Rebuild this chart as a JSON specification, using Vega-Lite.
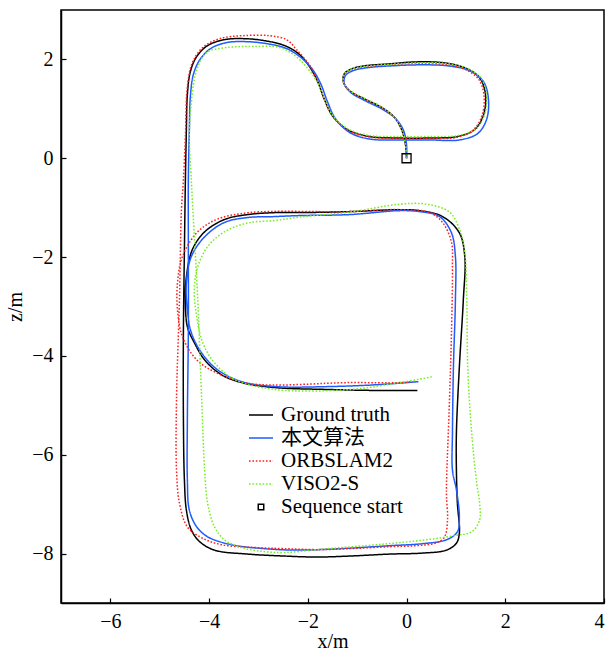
{
"$schema":"https://vega.github.io/schema/vega-lite/v6.json",
"width":543,"height":593,"autosize":{"type":"none"},
"padding":{"left":61,"top":10,"right":2,"bottom":49},
"background":"white",
"config":{
"view":{"stroke":"black","strokeWidth":1.5},
"axis":{"grid":false,"domainColor":"black","domainWidth":1.5,"tickColor":"black","tickWidth":1.2,"tickSize":-5,"labelFont":"Liberation Serif","labelFontSize":20,"labelColor":"black","titleFont":"Liberation Serif","titleFontSize":20,"titleFontWeight":"normal","titleColor":"black"}
},
"layer":[
{
"data":{"values":[
{"s":"Ground truth","i":1,"x":0,"y":0},{"s":"Ground truth","i":2,"x":-0.02,"y":0.27},{"s":"Ground truth","i":3,"x":-0.10,"y":0.58},{"s":"Ground truth","i":4,"x":-0.24,"y":0.82},{"s":"Ground truth","i":5,"x":-0.49,"y":1.02},{"s":"Ground truth","i":6,"x":-0.85,"y":1.20},{"s":"Ground truth","i":7,"x":-1.16,"y":1.37},{"s":"Ground truth","i":8,"x":-1.28,"y":1.55},{"s":"Ground truth","i":9,"x":-1.26,"y":1.71},{"s":"Ground truth","i":10,"x":-1.11,"y":1.81},{"s":"Ground truth","i":11,"x":-0.85,"y":1.87},{"s":"Ground truth","i":12,"x":-0.34,"y":1.91},{"s":"Ground truth","i":13,"x":0.20,"y":1.95},{"s":"Ground truth","i":14,"x":0.77,"y":1.93},{"s":"Ground truth","i":15,"x":1.18,"y":1.83},{"s":"Ground truth","i":16,"x":1.48,"y":1.63},{"s":"Ground truth","i":17,"x":1.60,"y":1.29},{"s":"Ground truth","i":18,"x":1.56,"y":0.88},{"s":"Ground truth","i":19,"x":1.38,"y":0.58},{"s":"Ground truth","i":20,"x":1.03,"y":0.44},{"s":"Ground truth","i":21,"x":0.47,"y":0.41},{"s":"Ground truth","i":22,"x":-0.14,"y":0.41},{"s":"Ground truth","i":23,"x":-0.75,"y":0.44},{"s":"Ground truth","i":24,"x":-1.20,"y":0.58},{"s":"Ground truth","i":25,"x":-1.50,"y":0.86},{"s":"Ground truth","i":26,"x":-1.66,"y":1.18},{"s":"Ground truth","i":27,"x":-1.80,"y":1.55},{"s":"Ground truth","i":28,"x":-1.95,"y":1.83},{"s":"Ground truth","i":29,"x":-2.17,"y":2.10},{"s":"Ground truth","i":30,"x":-2.47,"y":2.28},{"s":"Ground truth","i":31,"x":-2.88,"y":2.38},{"s":"Ground truth","i":32,"x":-3.28,"y":2.42},{"s":"Ground truth","i":33,"x":-3.69,"y":2.40},{"s":"Ground truth","i":34,"x":-4.03,"y":2.28},{"s":"Ground truth","i":35,"x":-4.25,"y":2.06},{"s":"Ground truth","i":36,"x":-4.38,"y":1.75},{"s":"Ground truth","i":37,"x":-4.44,"y":1.29},{"s":"Ground truth","i":38,"x":-4.46,"y":0.58},{"s":"Ground truth","i":39,"x":-4.48,"y":-0.44},{"s":"Ground truth","i":40,"x":-4.50,"y":-1.85},{"s":"Ground truth","i":41,"x":-4.52,"y":-3.47},{"s":"Ground truth","i":42,"x":-4.52,"y":-5.29},{"s":"Ground truth","i":43,"x":-4.50,"y":-6.51},{"s":"Ground truth","i":44,"x":-4.46,"y":-7.12},{"s":"Ground truth","i":45,"x":-4.36,"y":-7.52},{"s":"Ground truth","i":46,"x":-4.19,"y":-7.76},{"s":"Ground truth","i":47,"x":-3.89,"y":-7.93},{"s":"Ground truth","i":48,"x":-3.22,"y":-8.01},{"s":"Ground truth","i":49,"x":-2.47,"y":-8.05},{"s":"Ground truth","i":50,"x":-1.82,"y":-8.07},{"s":"Ground truth","i":51,"x":-1.15,"y":-8.05},{"s":"Ground truth","i":52,"x":-0.34,"y":-8.01},{"s":"Ground truth","i":53,"x":0.32,"y":-7.99},{"s":"Ground truth","i":54,"x":0.81,"y":-7.93},{"s":"Ground truth","i":55,"x":1.01,"y":-7.79},{"s":"Ground truth","i":56,"x":1.07,"y":-7.58},{"s":"Ground truth","i":57,"x":1.03,"y":-6.98},{"s":"Ground truth","i":58,"x":1.01,"y":-6.31},{"s":"Ground truth","i":59,"x":1.01,"y":-5.56},{"s":"Ground truth","i":60,"x":1.07,"y":-4.22},{"s":"Ground truth","i":61,"x":1.15,"y":-2.87},{"s":"Ground truth","i":62,"x":1.18,"y":-1.99},{"s":"Ground truth","i":63,"x":1.07,"y":-1.51},{"s":"Ground truth","i":64,"x":0.73,"y":-1.18},{"s":"Ground truth","i":65,"x":0.26,"y":-1.06},{"s":"Ground truth","i":66,"x":-0.14,"y":-1.04},{"s":"Ground truth","i":67,"x":-1.15,"y":-1.08},{"s":"Ground truth","i":68,"x":-2.17,"y":-1.10},{"s":"Ground truth","i":69,"x":-2.67,"y":-1.10},{"s":"Ground truth","i":70,"x":-3.22,"y":-1.14},{"s":"Ground truth","i":71,"x":-3.69,"y":-1.24},{"s":"Ground truth","i":72,"x":-4.09,"y":-1.49},{"s":"Ground truth","i":73,"x":-4.34,"y":-1.85},{"s":"Ground truth","i":74,"x":-4.46,"y":-2.40},{"s":"Ground truth","i":75,"x":-4.48,"y":-2.86},{"s":"Ground truth","i":76,"x":-4.44,"y":-3.41},{"s":"Ground truth","i":77,"x":-4.30,"y":-3.73},{"s":"Ground truth","i":78,"x":-4.09,"y":-4.08},{"s":"Ground truth","i":79,"x":-3.75,"y":-4.38},{"s":"Ground truth","i":80,"x":-3.34,"y":-4.54},{"s":"Ground truth","i":81,"x":-2.67,"y":-4.64},{"s":"Ground truth","i":82,"x":-1.56,"y":-4.68},{"s":"Ground truth","i":83,"x":-0.55,"y":-4.70},{"s":"Ground truth","i":84,"x":0.22,"y":-4.70},
{"s":"本文算法","i":1,"x":0,"y":0},{"s":"本文算法","i":2,"x":0,"y":0.27},{"s":"本文算法","i":3,"x":-0.06,"y":0.56},{"s":"本文算法","i":4,"x":-0.20,"y":0.78},{"s":"本文算法","i":5,"x":-0.47,"y":0.98},{"s":"本文算法","i":6,"x":-0.83,"y":1.16},{"s":"本文算法","i":7,"x":-1.13,"y":1.33},{"s":"本文算法","i":8,"x":-1.26,"y":1.51},{"s":"本文算法","i":9,"x":-1.24,"y":1.67},{"s":"本文算法","i":10,"x":-1.09,"y":1.77},{"s":"本文算法","i":11,"x":-0.81,"y":1.83},{"s":"本文算法","i":12,"x":-0.30,"y":1.87},{"s":"本文算法","i":13,"x":0.26,"y":1.89},{"s":"本文算法","i":14,"x":0.83,"y":1.87},{"s":"本文算法","i":15,"x":1.28,"y":1.77},{"s":"本文算法","i":16,"x":1.56,"y":1.55},{"s":"本文算法","i":17,"x":1.66,"y":1.18},{"s":"本文算法","i":18,"x":1.62,"y":0.78},{"s":"本文算法","i":19,"x":1.44,"y":0.50},{"s":"本文算法","i":20,"x":1.07,"y":0.37},{"s":"本文算法","i":21,"x":0.47,"y":0.37},{"s":"本文算法","i":22,"x":-0.14,"y":0.37},{"s":"本文算法","i":23,"x":-0.75,"y":0.39},{"s":"本文算法","i":24,"x":-1.15,"y":0.52},{"s":"本文算法","i":25,"x":-1.44,"y":0.80},{"s":"本文算法","i":26,"x":-1.60,"y":1.14},{"s":"本文算法","i":27,"x":-1.74,"y":1.51},{"s":"本文算法","i":28,"x":-1.90,"y":1.79},{"s":"本文算法","i":29,"x":-2.13,"y":2.03},{"s":"本文算法","i":30,"x":-2.43,"y":2.22},{"s":"本文算法","i":31,"x":-2.84,"y":2.32},{"s":"本文算法","i":32,"x":-3.26,"y":2.36},{"s":"本文算法","i":33,"x":-3.65,"y":2.34},{"s":"本文算法","i":34,"x":-3.97,"y":2.22},{"s":"本文算法","i":35,"x":-4.19,"y":1.99},{"s":"本文算法","i":36,"x":-4.32,"y":1.69},{"s":"本文算法","i":37,"x":-4.38,"y":1.24},{"s":"本文算法","i":38,"x":-4.40,"y":0.58},{"s":"本文算法","i":39,"x":-4.42,"y":-0.44},{"s":"本文算法","i":40,"x":-4.42,"y":-1.85},{"s":"本文算法","i":41,"x":-4.42,"y":-3.47},{"s":"本文算法","i":42,"x":-4.44,"y":-5.29},{"s":"本文算法","i":43,"x":-4.44,"y":-6.51},{"s":"本文算法","i":44,"x":-4.40,"y":-7.12},{"s":"本文算法","i":45,"x":-4.25,"y":-7.46},{"s":"本文算法","i":46,"x":-4.03,"y":-7.66},{"s":"本文算法","i":47,"x":-3.55,"y":-7.82},{"s":"本文算法","i":48,"x":-2.88,"y":-7.90},{"s":"本文算法","i":49,"x":-2.17,"y":-7.93},{"s":"本文算法","i":50,"x":-1.15,"y":-7.89},{"s":"本文算法","i":51,"x":-0.34,"y":-7.84},{"s":"本文算法","i":52,"x":0.32,"y":-7.80},{"s":"本文算法","i":53,"x":0.81,"y":-7.72},{"s":"本文算法","i":54,"x":1.03,"y":-7.56},{"s":"本文算法","i":55,"x":1.07,"y":-7.26},{"s":"本文算法","i":56,"x":1.01,"y":-6.71},{"s":"本文算法","i":57,"x":0.93,"y":-6.31},{"s":"本文算法","i":58,"x":0.93,"y":-5.56},{"s":"本文算法","i":59,"x":0.95,"y":-4.22},{"s":"本文算法","i":60,"x":0.99,"y":-2.87},{"s":"本文算法","i":61,"x":0.99,"y":-1.99},{"s":"本文算法","i":62,"x":0.91,"y":-1.51},{"s":"本文算法","i":63,"x":0.67,"y":-1.18},{"s":"本文算法","i":64,"x":0.26,"y":-1.08},{"s":"本文算法","i":65,"x":-0.14,"y":-1.06},{"s":"本文算法","i":66,"x":-1.15,"y":-1.14},{"s":"本文算法","i":67,"x":-2.17,"y":-1.16},{"s":"本文算法","i":68,"x":-2.67,"y":-1.18},{"s":"本文算法","i":69,"x":-3.22,"y":-1.20},{"s":"本文算法","i":70,"x":-3.69,"y":-1.30},{"s":"本文算法","i":71,"x":-4.09,"y":-1.59},{"s":"本文算法","i":72,"x":-4.36,"y":-1.99},{"s":"本文算法","i":73,"x":-4.46,"y":-2.52},{"s":"本文算法","i":74,"x":-4.44,"y":-3.07},{"s":"本文算法","i":75,"x":-4.36,"y":-3.53},{"s":"本文算法","i":76,"x":-4.15,"y":-3.94},{"s":"本文算法","i":77,"x":-3.83,"y":-4.28},{"s":"本文算法","i":78,"x":-3.34,"y":-4.52},{"s":"本文算法","i":79,"x":-2.67,"y":-4.62},{"s":"本文算法","i":80,"x":-1.56,"y":-4.62},{"s":"本文算法","i":81,"x":-0.55,"y":-4.58},{"s":"本文算法","i":82,"x":0.24,"y":-4.52},
{"s":"ORBSLAM2","i":1,"x":0,"y":0},{"s":"ORBSLAM2","i":2,"x":-0.02,"y":0.27},{"s":"ORBSLAM2","i":3,"x":-0.10,"y":0.58},{"s":"ORBSLAM2","i":4,"x":-0.24,"y":0.82},{"s":"ORBSLAM2","i":5,"x":-0.49,"y":1.02},{"s":"ORBSLAM2","i":6,"x":-0.85,"y":1.20},{"s":"ORBSLAM2","i":7,"x":-1.16,"y":1.37},{"s":"ORBSLAM2","i":8,"x":-1.28,"y":1.55},{"s":"ORBSLAM2","i":9,"x":-1.26,"y":1.70},{"s":"ORBSLAM2","i":10,"x":-1.11,"y":1.80},{"s":"ORBSLAM2","i":11,"x":-0.85,"y":1.85},{"s":"ORBSLAM2","i":12,"x":-0.34,"y":1.89},{"s":"ORBSLAM2","i":13,"x":0.20,"y":1.92},{"s":"ORBSLAM2","i":14,"x":0.77,"y":1.90},{"s":"ORBSLAM2","i":15,"x":1.18,"y":1.80},{"s":"ORBSLAM2","i":16,"x":1.46,"y":1.60},{"s":"ORBSLAM2","i":17,"x":1.57,"y":1.27},{"s":"ORBSLAM2","i":18,"x":1.53,"y":0.87},{"s":"ORBSLAM2","i":19,"x":1.35,"y":0.57},{"s":"ORBSLAM2","i":20,"x":1.00,"y":0.42},{"s":"ORBSLAM2","i":21,"x":0.47,"y":0.40},{"s":"ORBSLAM2","i":22,"x":-0.14,"y":0.40},{"s":"ORBSLAM2","i":23,"x":-0.75,"y":0.43},{"s":"ORBSLAM2","i":24,"x":-1.20,"y":0.57},{"s":"ORBSLAM2","i":25,"x":-1.50,"y":0.85},{"s":"ORBSLAM2","i":26,"x":-1.66,"y":1.18},{"s":"ORBSLAM2","i":27,"x":-1.80,"y":1.55},{"s":"ORBSLAM2","i":28,"x":-1.94,"y":1.85},{"s":"ORBSLAM2","i":29,"x":-2.23,"y":2.20},{"s":"ORBSLAM2","i":30,"x":-2.43,"y":2.40},{"s":"ORBSLAM2","i":31,"x":-2.78,"y":2.48},{"s":"ORBSLAM2","i":32,"x":-3.32,"y":2.48},{"s":"ORBSLAM2","i":33,"x":-3.79,"y":2.42},{"s":"ORBSLAM2","i":34,"x":-4.13,"y":2.24},{"s":"ORBSLAM2","i":35,"x":-4.34,"y":1.93},{"s":"ORBSLAM2","i":36,"x":-4.44,"y":1.45},{"s":"ORBSLAM2","i":37,"x":-4.48,"y":0.44},{"s":"ORBSLAM2","i":38,"x":-4.52,"y":-0.44},{"s":"ORBSLAM2","i":39,"x":-4.56,"y":-1.04},{"s":"ORBSLAM2","i":40,"x":-4.60,"y":-2.86},{"s":"ORBSLAM2","i":41,"x":-4.66,"y":-4.89},{"s":"ORBSLAM2","i":42,"x":-4.66,"y":-6.31},{"s":"ORBSLAM2","i":43,"x":-4.60,"y":-6.98},{"s":"ORBSLAM2","i":44,"x":-4.44,"y":-7.46},{"s":"ORBSLAM2","i":45,"x":-4.15,"y":-7.68},{"s":"ORBSLAM2","i":46,"x":-3.75,"y":-7.82},{"s":"ORBSLAM2","i":47,"x":-3.02,"y":-7.88},{"s":"ORBSLAM2","i":48,"x":-2.47,"y":-7.90},{"s":"ORBSLAM2","i":49,"x":-1.82,"y":-7.92},{"s":"ORBSLAM2","i":50,"x":-1.15,"y":-7.90},{"s":"ORBSLAM2","i":51,"x":-0.34,"y":-7.86},{"s":"ORBSLAM2","i":52,"x":0.20,"y":-7.84},{"s":"ORBSLAM2","i":53,"x":0.61,"y":-7.78},{"s":"ORBSLAM2","i":54,"x":0.77,"y":-7.66},{"s":"ORBSLAM2","i":55,"x":0.83,"y":-7.32},{"s":"ORBSLAM2","i":56,"x":0.81,"y":-6.85},{"s":"ORBSLAM2","i":57,"x":0.81,"y":-6.57},{"s":"ORBSLAM2","i":58,"x":0.87,"y":-4.89},{"s":"ORBSLAM2","i":59,"x":0.91,"y":-3.53},{"s":"ORBSLAM2","i":60,"x":0.93,"y":-2.19},{"s":"ORBSLAM2","i":61,"x":0.91,"y":-1.70},{"s":"ORBSLAM2","i":62,"x":0.73,"y":-1.30},{"s":"ORBSLAM2","i":63,"x":0.47,"y":-1.10},{"s":"ORBSLAM2","i":64,"x":-0.14,"y":-1.04},{"s":"ORBSLAM2","i":65,"x":-1.15,"y":-1.08},{"s":"ORBSLAM2","i":66,"x":-3.18,"y":-1.10},{"s":"ORBSLAM2","i":67,"x":-3.85,"y":-1.24},{"s":"ORBSLAM2","i":68,"x":-4.25,"y":-1.51},{"s":"ORBSLAM2","i":69,"x":-4.54,"y":-1.99},{"s":"ORBSLAM2","i":70,"x":-4.64,"y":-2.52},{"s":"ORBSLAM2","i":71,"x":-4.64,"y":-3.07},{"s":"ORBSLAM2","i":72,"x":-4.54,"y":-3.61},{"s":"ORBSLAM2","i":73,"x":-4.25,"y":-4.08},{"s":"ORBSLAM2","i":74,"x":-3.85,"y":-4.34},{"s":"ORBSLAM2","i":75,"x":-3.18,"y":-4.56},{"s":"ORBSLAM2","i":76,"x":-1.15,"y":-4.54},{"s":"ORBSLAM2","i":77,"x":-0.14,"y":-4.54},{"s":"ORBSLAM2","i":78,"x":0.12,"y":-4.52},
{"s":"VISO2-S","i":1,"x":0,"y":0},{"s":"VISO2-S","i":2,"x":-0.02,"y":0.27},{"s":"VISO2-S","i":3,"x":-0.10,"y":0.58},{"s":"VISO2-S","i":4,"x":-0.24,"y":0.82},{"s":"VISO2-S","i":5,"x":-0.49,"y":1.03},{"s":"VISO2-S","i":6,"x":-0.85,"y":1.21},{"s":"VISO2-S","i":7,"x":-1.16,"y":1.38},{"s":"VISO2-S","i":8,"x":-1.28,"y":1.56},{"s":"VISO2-S","i":9,"x":-1.26,"y":1.71},{"s":"VISO2-S","i":10,"x":-1.11,"y":1.81},{"s":"VISO2-S","i":11,"x":-0.85,"y":1.86},{"s":"VISO2-S","i":12,"x":-0.34,"y":1.90},{"s":"VISO2-S","i":13,"x":0.20,"y":1.93},{"s":"VISO2-S","i":14,"x":0.77,"y":1.92},{"s":"VISO2-S","i":15,"x":1.20,"y":1.83},{"s":"VISO2-S","i":16,"x":1.50,"y":1.63},{"s":"VISO2-S","i":17,"x":1.62,"y":1.29},{"s":"VISO2-S","i":18,"x":1.58,"y":0.88},{"s":"VISO2-S","i":19,"x":1.40,"y":0.59},{"s":"VISO2-S","i":20,"x":1.05,"y":0.46},{"s":"VISO2-S","i":21,"x":0.47,"y":0.44},{"s":"VISO2-S","i":22,"x":-0.14,"y":0.44},{"s":"VISO2-S","i":23,"x":-0.75,"y":0.46},{"s":"VISO2-S","i":24,"x":-1.20,"y":0.60},{"s":"VISO2-S","i":25,"x":-1.50,"y":0.87},{"s":"VISO2-S","i":26,"x":-1.66,"y":1.19},{"s":"VISO2-S","i":27,"x":-1.80,"y":1.53},{"s":"VISO2-S","i":28,"x":-2.03,"y":1.85},{"s":"VISO2-S","i":29,"x":-2.27,"y":2.08},{"s":"VISO2-S","i":30,"x":-2.57,"y":2.24},{"s":"VISO2-S","i":31,"x":-3.12,"y":2.26},{"s":"VISO2-S","i":32,"x":-3.65,"y":2.24},{"s":"VISO2-S","i":33,"x":-4.05,"y":2.14},{"s":"VISO2-S","i":34,"x":-4.25,"y":1.79},{"s":"VISO2-S","i":35,"x":-4.36,"y":1.12},{"s":"VISO2-S","i":36,"x":-4.40,"y":0.44},{"s":"VISO2-S","i":37,"x":-4.36,"y":-0.44},{"s":"VISO2-S","i":38,"x":-4.34,"y":-0.84},{"s":"VISO2-S","i":39,"x":-4.23,"y":-2.86},{"s":"VISO2-S","i":40,"x":-4.15,"y":-4.89},{"s":"VISO2-S","i":41,"x":-4.09,"y":-6.31},{"s":"VISO2-S","i":42,"x":-4.03,"y":-6.98},{"s":"VISO2-S","i":43,"x":-3.89,"y":-7.46},{"s":"VISO2-S","i":44,"x":-3.69,"y":-7.72},{"s":"VISO2-S","i":45,"x":-3.34,"y":-7.88},{"s":"VISO2-S","i":46,"x":-2.88,"y":-7.96},{"s":"VISO2-S","i":47,"x":-2.47,"y":-7.98},{"s":"VISO2-S","i":48,"x":-1.82,"y":-7.92},{"s":"VISO2-S","i":49,"x":-0.49,"y":-7.81},{"s":"VISO2-S","i":50,"x":0.32,"y":-7.73},{"s":"VISO2-S","i":51,"x":1.01,"y":-7.63},{"s":"VISO2-S","i":52,"x":1.32,"y":-7.56},{"s":"VISO2-S","i":53,"x":1.48,"y":-7.32},{"s":"VISO2-S","i":54,"x":1.48,"y":-6.98},{"s":"VISO2-S","i":55,"x":1.42,"y":-6.57},{"s":"VISO2-S","i":56,"x":1.32,"y":-5.56},{"s":"VISO2-S","i":57,"x":1.24,"y":-4.22},{"s":"VISO2-S","i":58,"x":1.22,"y":-2.87},{"s":"VISO2-S","i":59,"x":1.18,"y":-1.90},{"s":"VISO2-S","i":60,"x":1.07,"y":-1.43},{"s":"VISO2-S","i":61,"x":0.87,"y":-1.09},{"s":"VISO2-S","i":62,"x":0.41,"y":-0.93},{"s":"VISO2-S","i":63,"x":-0.14,"y":-0.93},{"s":"VISO2-S","i":64,"x":-1.15,"y":-1.09},{"s":"VISO2-S","i":65,"x":-2.17,"y":-1.19},{"s":"VISO2-S","i":66,"x":-2.67,"y":-1.26},{"s":"VISO2-S","i":67,"x":-3.22,"y":-1.31},{"s":"VISO2-S","i":68,"x":-3.69,"y":-1.49},{"s":"VISO2-S","i":69,"x":-4.03,"y":-1.79},{"s":"VISO2-S","i":70,"x":-4.23,"y":-2.20},{"s":"VISO2-S","i":71,"x":-4.30,"y":-2.66},{"s":"VISO2-S","i":72,"x":-4.25,"y":-3.21},{"s":"VISO2-S","i":73,"x":-4.13,"y":-3.73},{"s":"VISO2-S","i":74,"x":-3.89,"y":-4.14},{"s":"VISO2-S","i":75,"x":-3.48,"y":-4.48},{"s":"VISO2-S","i":76,"x":-2.67,"y":-4.68},{"s":"VISO2-S","i":77,"x":-1.15,"y":-4.68},{"s":"VISO2-S","i":78,"x":-0.14,"y":-4.54},{"s":"VISO2-S","i":79,"x":0.53,"y":-4.42}
]},
"mark":{"type":"line","interpolate":"catmull-rom"},
"encoding":{
"x":{"field":"x","type":"quantitative","scale":{"domain":[-7,4],"nice":false,"zero":false},"axis":{"values":[-6,-4,-2,0,2,4],"title":"x/m","titlePadding":0,"labelPadding":13}},
"y":{"field":"y","type":"quantitative","scale":{"domain":[-9,3],"nice":false,"zero":false},"axis":{"values":[-8,-6,-4,-2,0,2],"title":"z/m","titlePadding":6,"labelPadding":13}},
"order":{"field":"i","type":"quantitative"},
"color":{"field":"s","type":"nominal","scale":{"domain":["Ground truth","本文算法","ORBSLAM2","VISO2-S","Sequence start"],"range":["#000000","#1f5bff","#ff2020","#77ee22","#000000"]},
"legend":{"orient":"none","legendX":187,"legendY":392,"title":null,"symbolType":"stroke","symbolSize":576,"symbolStrokeWidth":1.5,"labelFont":"'Liberation Serif', 'Noto Sans CJK SC'","labelFontSize":21,"labelColor":"black","labelOffset":7,"rowPadding":0,"padding":0,
"encode":{"symbols":{"update":{"shape":{"signal":"datum.value === 'Sequence start' ? 'square' : 'stroke'"},"size":{"signal":"datum.value === 'Sequence start' ? 30 : 576"}}}}}},
"strokeDash":{"field":"s","type":"nominal","scale":{"domain":["Ground truth","本文算法","ORBSLAM2","VISO2-S","Sequence start"],"range":[[1,0],[1,0],[1.6,1.8],[1.6,1.8],[1,0]]}},
"strokeWidth":{"field":"s","type":"nominal","legend":null,"scale":{"domain":["Ground truth","本文算法","ORBSLAM2","VISO2-S","Sequence start"],"range":[1.5,1.5,1.8,1.8,1.5]}}
}
},
{
"data":{"values":[{"s":"Sequence start","x":0,"y":0}]},
"mark":{"type":"point","shape":"square","size":81,"filled":false,"stroke":"black","strokeWidth":1.3,"opacity":1},
"encoding":{"x":{"field":"x","type":"quantitative"},"y":{"field":"y","type":"quantitative"}}
}
]
}
